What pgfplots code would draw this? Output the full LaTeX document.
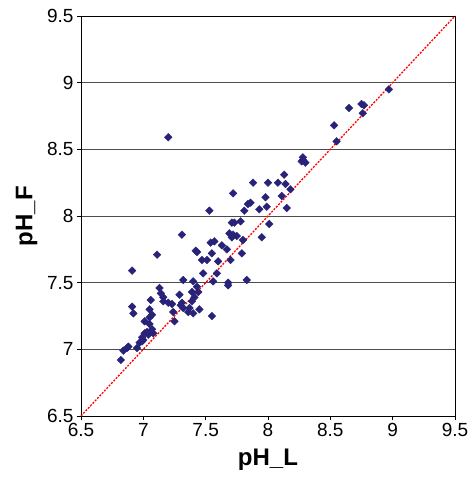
\documentclass[border=0pt]{standalone}
\usepackage{fontspec}
\setmainfont{Liberation Sans}
\usepackage{pgfplots}
\pgfplotsset{compat=1.18}
\definecolor{mk}{RGB}{40,35,120}
\begin{document}
\begin{tikzpicture}
\begin{axis}[
  at={(0pt,0pt)}, anchor=south west,
  scale only axis, width=374pt, height=400pt,
  xmin=6.5, xmax=9.5, ymin=6.5, ymax=9.5,
  xtick={6.5,7,...,9.5}, ytick={6.5,7,...,9.5},
  xticklabels={6.5,7,7.5,8,8.5,9,9.5},
  yticklabels={6.5,7,7.5,8,8.5,9,9.5},
  tick align=outside, tick pos=left,
  major tick length=4pt,
  ymajorgrids, grid style={black!70, line width=0.8pt},
  axis line style={black, line width=0.8pt},
  tick style={black, line width=0.8pt},
  ticklabel style={font=\fontsize{19}{19}\selectfont},
  /pgf/number format/assume math mode=true,
  xlabel={\textbf{pH\_L}}, ylabel={\textbf{pH\_F}},
  label style={font=\fontsize{24}{24}\selectfont},
  xlabel style={at={(0.5,0)}, anchor=north, yshift=-29pt},
  ylabel style={at={(0,0.5)}, anchor=south, rotate=0, xshift=0pt, yshift=40pt},
  clip=false,
]
\addplot[red, line width=1.3pt, dash pattern=on 2pt off 1.4pt] coordinates {(6.5,6.5) (9.5,9.5)};
\addplot[only marks, mark=square*, mark size=2.7pt, color=mk, mark options={rotate=45, fill=mk, draw=mk}] coordinates {
(6.82,6.92) (6.84,6.99) (6.87,7.01) (6.88,7.02) (6.95,7.01) (6.97,7.05)
(6.99,7.06) (7.00,7.07) (6.99,7.09) (7.01,7.12) (7.03,7.13) (7.04,7.11)
(7.07,7.15) (7.08,7.12) (7.01,7.21) (7.05,7.19) (7.05,7.24) (7.07,7.26)
(7.05,7.30) (6.91,7.32) (6.92,7.27) (7.06,7.37) (6.91,7.59) (7.11,7.71)
(7.16,7.36) (7.20,7.35) (7.23,7.34) (7.25,7.21) (7.30,7.33) (7.32,7.31)
(7.36,7.28) (7.24,7.28) (7.13,7.46) (7.14,7.42) (7.16,7.39) (7.31,7.86)
(7.43,7.73) (7.55,7.72) (7.79,7.72) (7.47,7.67) (7.51,7.67) (7.60,7.66)
(7.70,7.67) (7.48,7.57) (7.59,7.57) (7.32,7.52) (7.40,7.51) (7.56,7.51)
(7.68,7.50) (7.68,7.48) (7.83,7.52) (7.43,7.47) (7.44,7.43) (7.29,7.41)
(7.39,7.43) (7.41,7.39) (7.39,7.36) (7.31,7.35) (7.37,7.31) (7.45,7.30)
(7.40,7.27) (7.55,7.25) (7.20,8.59) (7.53,8.04) (7.72,8.17) (7.84,8.09)
(7.81,8.04) (7.71,7.95) (7.73,7.95) (7.78,7.96) (7.69,7.87) (7.72,7.86)
(7.71,7.84) (7.75,7.85) (7.57,7.81) (7.54,7.80) (7.80,7.82) (7.63,7.78)
(7.67,7.75) (7.42,7.74) (7.88,8.25) (8.00,8.25) (8.08,8.25) (8.14,8.24)
(8.18,8.20) (7.98,8.14) (8.11,8.15) (7.86,8.10) (7.93,8.05) (7.99,8.07)
(8.15,8.06) (8.01,7.94) (7.95,7.84) (8.13,8.31) (8.27,8.41) (8.28,8.42)
(8.30,8.40) (8.28,8.44) (8.53,8.68) (8.55,8.56) (8.65,8.81) (8.75,8.84)
(8.77,8.83) (8.76,8.77) (8.97,8.95)
};
\end{axis}
\pgfresetboundingbox
\path (-81pt,-66pt) rectangle (392pt,416pt);
\end{tikzpicture}
\end{document}
